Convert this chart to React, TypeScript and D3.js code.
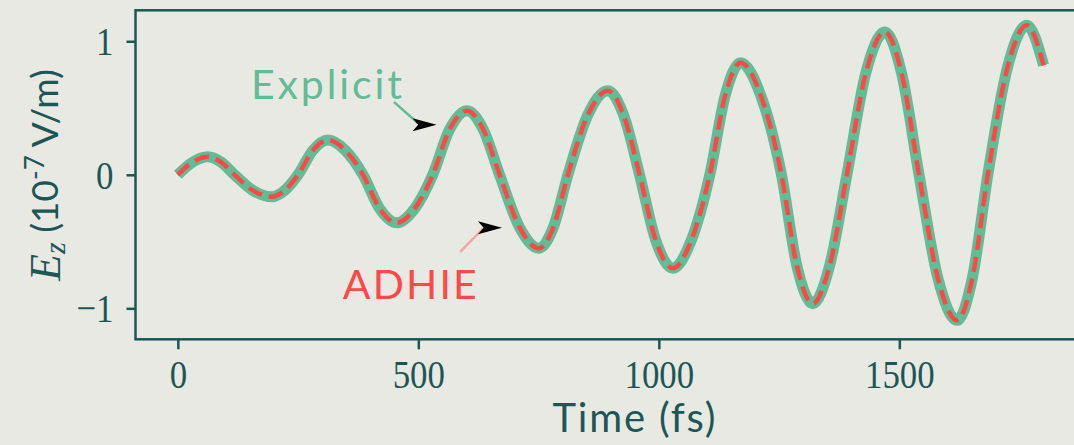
import React, { useRef, useEffect } from 'react';
import * as d3 from 'd3';

// time (fs) and field values (1e-7 V/m)
const times = [
  0, 31, 62, 90, 118, 156, 195, 222, 250, 281, 312, 348, 385, 420, 455, 492, 530, 565, 601,
  635, 669, 710, 751, 781, 811, 852, 894, 927, 960, 994, 1029, 1067, 1106, 1138, 1170,
  1212, 1255, 1287, 1320, 1355, 1391, 1430, 1470, 1505, 1541, 1580, 1620, 1652, 1684,
  1724, 1765, 1800,
];
const explicitValues = [
  0, 0.095, 0.135, 0.095, 0, -0.117, -0.165, -0.117, 0, 0.184, 0.26, 0.184, 0, -0.255, -0.36,
  -0.255, 0, 0.34, 0.48, 0.34, 0, -0.39, -0.55, -0.39, 0, 0.445, 0.63, 0.445, 0, -0.495, -0.7,
  -0.495, 0, 0.594, 0.84, 0.594, 0, -0.682, -0.965, -0.682, 0, 0.757, 1.07, 0.757, 0, -0.771,
  -1.09, -0.771, 0, 0.792, 1.12, 0.82,
];
const adhieValues = [
  0, 0.095, 0.135, 0.095, 0, -0.117, -0.165, -0.117, 0, 0.184, 0.26, 0.184, 0, -0.255, -0.36,
  -0.255, 0, 0.34, 0.48, 0.34, 0, -0.39, -0.55, -0.39, 0, 0.445, 0.63, 0.445, 0, -0.495, -0.7,
  -0.495, 0, 0.594, 0.84, 0.594, 0, -0.682, -0.965, -0.682, 0, 0.757, 1.07, 0.757, 0, -0.771,
  -1.09, -0.771, 0, 0.792, 1.12, 0.82,
];
const xTicks = [0, 500, 1000, 1500];
const yTicks = [-1, 0, 1];

const BG = '#e9e9e3';
const INK = '#1d5656';
const GREEN = '#62bc96';
const RED = '#ff4848';
const SANS = 'Lato, "Open Sans", sans-serif';
const SERIF = '"Liberation Serif", "DejaVu Serif", serif';

function App() {
  const svgRef = useRef(null);
  const width = 1074;
  const height = 445;

  useEffect(() => {
    const svgEl = d3.select(svgRef.current);
    svgEl.selectAll('*').remove();

    const xScale = d3.scaleLinear().domain([-88, 1890]).range([135.5, 1086.9]);
    const yScale = d3.scaleLinear().domain([-1.232, 1.232]).range([339.3, 10.3]);

    svgEl.append('rect').attr('width', width).attr('height', height).attr('fill', BG);

    const line = d3
      .line()
      .x((d) => xScale(d[0]))
      .y((d) => yScale(d[1]))
      .curve(d3.curveMonotoneX);

    svgEl
      .append('path')
      .attr('d', line(times.map((t, i) => [t, explicitValues[i]])))
      .attr('fill', 'none')
      .attr('stroke', GREEN)
      .attr('stroke-width', 11)
      .attr('stroke-linejoin', 'round');

    svgEl
      .append('path')
      .attr('d', line(times.map((t, i) => [t, adhieValues[i]])))
      .attr('fill', 'none')
      .attr('stroke', RED)
      .attr('stroke-width', 4.5)
      .attr('stroke-dasharray', '15 7');

    // spines
    const [x0, x1] = xScale.range();
    const [yb, yt] = yScale.range();
    svgEl
      .append('rect')
      .attr('x', x0)
      .attr('y', yt)
      .attr('width', x1 - x0)
      .attr('height', yb - yt)
      .attr('fill', 'none')
      .attr('stroke', INK)
      .attr('stroke-width', 2.5);

    // tick labels: tall narrow serif digits, squeezed horizontally
    const xAxis = d3.axisBottom(xScale).tickValues(xTicks).tickSize(10).tickFormat(d3.format('d'));
    const xg = svgEl.append('g').attr('transform', `translate(0,${yb})`).call(xAxis);
    xg.select('.domain').remove();
    xg.selectAll('line').attr('stroke', INK).attr('stroke-width', 2.5);
    xg.selectAll('text')
      .attr('fill', INK)
      .attr('font-family', SERIF)
      .attr('font-size', 41)
      .attr('y', 48.5)
      .attr('dy', 0)
      .attr('transform', 'scale(0.85,1)');

    const yAxis = d3
      .axisLeft(yScale)
      .tickValues(yTicks)
      .tickSize(9)
      .tickFormat((d) => (d < 0 ? `\u2212${Math.abs(d)}` : `${d}`));
    const yg = svgEl.append('g').attr('transform', `translate(${x0},0)`).call(yAxis);
    yg.select('.domain').remove();
    yg.selectAll('line').attr('stroke', INK).attr('stroke-width', 2.5);
    yg.selectAll('text')
      .attr('fill', INK)
      .attr('font-family', SERIF)
      .attr('font-size', 41)
      .attr('x', -22 / 0.85)
      .attr('dy', '0.33em')
      .attr('transform', 'scale(0.85,1)');

    // axis labels
    svgEl
      .append('text')
      .attr('x', 634)
      .attr('y', 432)
      .attr('text-anchor', 'middle')
      .attr('font-family', SANS)
      .attr('font-size', 40)
      .attr('fill', INK)
      .attr('textLength', 163)
      .text('Time (fs)');

    const yl = svgEl
      .append('text')
      .attr('transform', 'rotate(-90)')
      .attr('x', -175)
      .attr('y', 58)
      .attr('text-anchor', 'middle')
      .attr('fill', INK)
      .attr('font-family', SANS)
      .attr('font-size', 37);
    yl.append('tspan').attr('font-family', SERIF).attr('font-style', 'italic').attr('font-size', 44).attr('dy', 2).text('E');
    yl.append('tspan').attr('font-family', SERIF).attr('font-style', 'italic').attr('font-size', 30).attr('dy', 5).text('z');
    yl.append('tspan').attr('dy', -7).text(' (10');
    yl.append('tspan').attr('font-size', 26).attr('dy', -14).text('-7');
    yl.append('tspan').attr('dy', 14).text(' V/m)');

    // annotations
    const arrowHead = 'M0,0 L-24,-6.5 L-18.5,0 L-24,6.5 Z';

    svgEl
      .append('text')
      .attr('x', xScale(152))
      .attr('y', yScale(0.57))
      .attr('font-family', SANS)
      .attr('font-size', 41)
      .attr('fill', GREEN)
      .attr('textLength', 151)
      .text('Explicit');
    const exTip = [xScale(538), yScale(0.374)];
    svgEl
      .append('line')
      .attr('x1', 394)
      .attr('y1', 102)
      .attr('x2', exTip[0] - 19)
      .attr('y2', exTip[1] - 2)
      .attr('stroke', GREEN)
      .attr('stroke-width', 2.5);
    svgEl
      .append('path')
      .attr('d', arrowHead)
      .attr('transform', `translate(${exTip[0]},${exTip[1]})`)
      .attr('fill', '#000');

    svgEl
      .append('text')
      .attr('x', xScale(343))
      .attr('y', yScale(-0.93))
      .attr('font-family', SANS)
      .attr('font-size', 41)
      .attr('fill', RED)
      .attr('textLength', 134)
      .text('ADHIE');
    const adTip = [xScale(674), yScale(-0.396)];
    svgEl
      .append('line')
      .attr('x1', 460)
      .attr('y1', 252)
      .attr('x2', adTip[0] - 19)
      .attr('y2', adTip[1] + 1)
      .attr('stroke', '#f0aaa4')
      .attr('stroke-width', 2.5);
    svgEl
      .append('path')
      .attr('d', arrowHead)
      .attr('transform', `translate(${adTip[0]},${adTip[1]})`)
      .attr('fill', '#000');
  }, []);

  return (
    <svg
      ref={svgRef}
      width={width}
      height={height}
      style={{ position: 'absolute', left: 0, top: 0, display: 'block' }}
    />
  );
}

export default App;
